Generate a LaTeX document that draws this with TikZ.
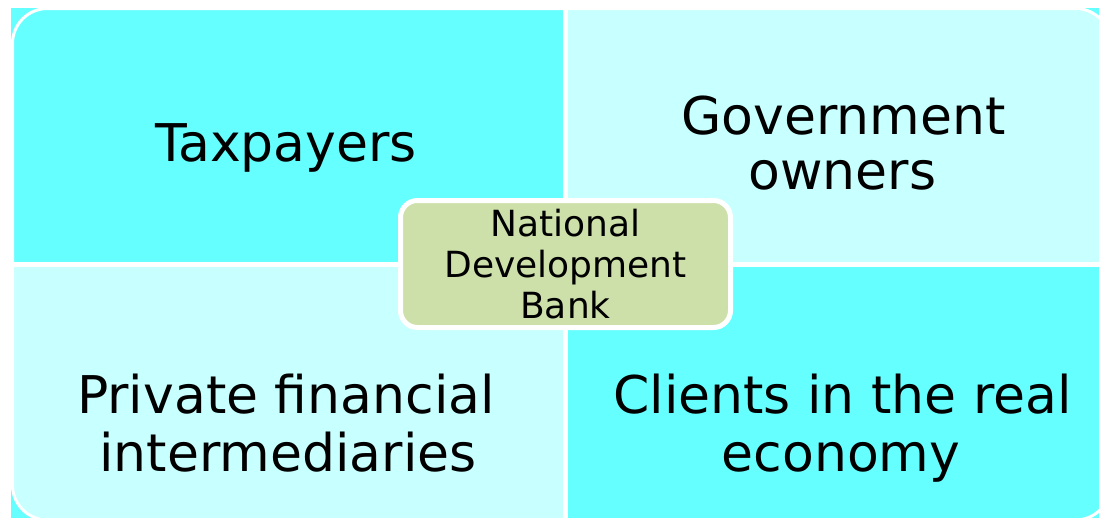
\documentclass[tikz,border=0pt]{standalone}
\usepackage{fontspec}
\setmainfont{DejaVu Sans}
\definecolor{cyanA}{HTML}{66FFFF}
\definecolor{cyanB}{HTML}{C8FFFF}
\definecolor{ndbgreen}{HTML}{CDE0AA}
\begin{document}
\begin{tikzpicture}[x=1pt,y=-1pt,
  bigtext/.style={font=\fontsize{52}{58}\selectfont, inner sep=0pt, anchor=base},
  centerbox/.style={draw=white, line width=5pt, fill=ndbgreen, rounded corners=17pt,
    minimum width=330pt, minimum height=127pt, inner sep=0pt, align=center,
    font=\fontsize{36}{41}\selectfont}]
\useasboundingbox (0,0) rectangle (1099,517);
\clip (0,0) rectangle (1099,517);
% background layer
\fill[cyanA] (11,8) rectangle (1130,540);
\begin{scope}
  \clip[rounded corners=35pt] (12.5,8.5) rectangle (1110.5,520);
  \fill[white] (0,0) rectangle (1130,540);
  \fill[cyanA] (14,10) rectangle (563,262);
  \fill[cyanB] (568,10) rectangle (1109,262);
  \fill[cyanB] (14,267) rectangle (563,518.5);
  \fill[cyanA] (568,267) rectangle (1109,518.5);
\end{scope}
\draw[white, line width=3pt, rounded corners=35pt] (12.5,8.5) rectangle (1110.5,520);
% quadrant texts
\node[bigtext] (tax) at (286,161.7) {Taxpayers};
\node[bigtext] (gov1) at (843.5,134) {Government};
\node[bigtext] (gov2) at (842.5,189) {owners};
\node[bigtext] (pfi1) at (286,413.5) {Private financial};
\node[bigtext] (pfi2) at (288,471.5) {intermediaries};
\node[bigtext] (cli1) at (842.5,413.5) {Clients in the real};
\node[bigtext] (cli2) at (841,471.5) {economy};
% centre
\node[centerbox] (ndb) at (565.5,264) {National\\Development\\Bank};
\end{tikzpicture}
\end{document}
